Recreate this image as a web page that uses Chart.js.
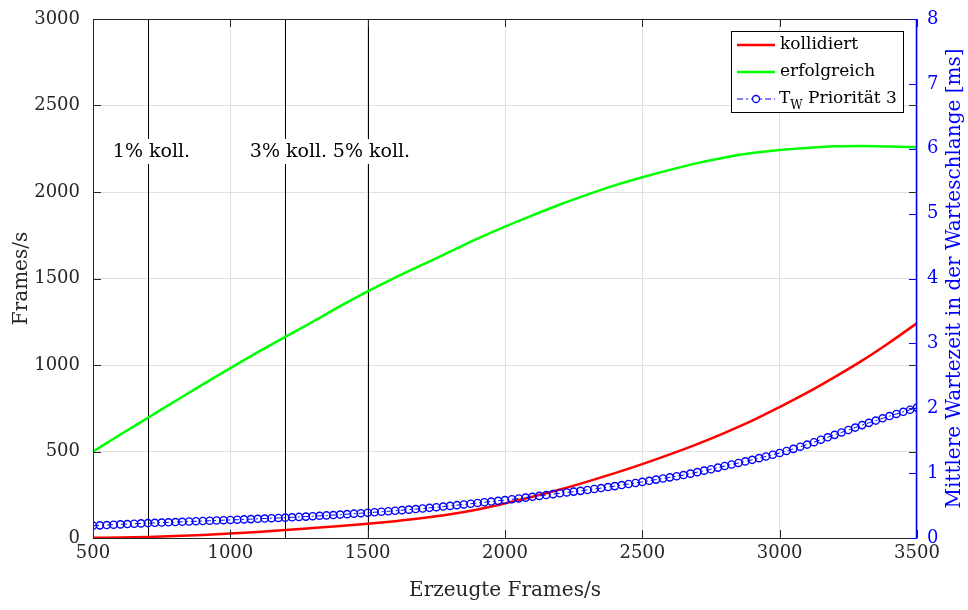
<!DOCTYPE html>
<html>
<head>
<meta charset="utf-8">
<script src="https://cdn.jsdelivr.net/npm/chart.js@4/dist/chart.umd.min.js"></script>
<style>
  html, body { margin: 0; padding: 0; background: #fff; }
  #wrap { width: 968px; height: 610px; }
</style>
</head>
<body>
<div id="wrap"><canvas id="c"></canvas></div>
<script>
// red/green curves, sampled every 100 frames/s
const xKoll = [500, 600, 700, 800, 900, 1000, 1100, 1200, 1300, 1400, 1500,
  1600, 1700, 1800, 1900, 2000, 2100, 2200, 2300, 2400, 2500,
  2600, 2700, 2800, 2900, 3000, 3100, 3200, 3300, 3400, 3500];
const kollidiert = [1, 3, 6, 11, 18, 26, 35, 46, 58, 70, 82,
  97, 115, 137, 165, 200, 238, 280, 326, 375, 427,
  483, 543, 608, 678, 757, 840, 930, 1025, 1130, 1242];
const erfolgreich = [500, 598, 695, 792, 888, 982, 1074, 1163, 1250, 1340, 1425,
  1505, 1580, 1655, 1730, 1800, 1865, 1928, 1985, 2038, 2085,
  2128, 2167, 2200, 2225, 2243, 2255, 2264, 2266, 2263, 2258];

// blue markers, every 25 frames/s
const xWarte = [500, 525, 550, 575, 600, 625, 650, 675, 700, 725, 750, 775,
  800, 825, 850, 875, 900, 925, 950, 975, 1000, 1025, 1050, 1075,
  1100, 1125, 1150, 1175, 1200, 1225, 1250, 1275, 1300, 1325, 1350, 1375,
  1400, 1425, 1450, 1475, 1500, 1525, 1550, 1575, 1600, 1625, 1650, 1675,
  1700, 1725, 1750, 1775, 1800, 1825, 1850, 1875, 1900, 1925, 1950, 1975,
  2000, 2025, 2050, 2075, 2100, 2125, 2150, 2175, 2200, 2225, 2250, 2275,
  2300, 2325, 2350, 2375, 2400, 2425, 2450, 2475, 2500, 2525, 2550, 2575,
  2600, 2625, 2650, 2675, 2700, 2725, 2750, 2775, 2800, 2825, 2850, 2875,
  2900, 2925, 2950, 2975, 3000, 3025, 3050, 3075, 3100, 3125, 3150, 3175,
  3200, 3225, 3250, 3275, 3300, 3325, 3350, 3375, 3400, 3425, 3450, 3475, 3500];
const warteP3 = [0.190, 0.195, 0.200, 0.205, 0.210, 0.215, 0.220, 0.225, 0.230, 0.234, 0.238, 0.242,
  0.246, 0.250, 0.254, 0.258, 0.262, 0.266, 0.270, 0.274, 0.278, 0.282, 0.287, 0.291,
  0.296, 0.300, 0.305, 0.309, 0.314, 0.319, 0.325, 0.330, 0.336, 0.342, 0.348, 0.354,
  0.361, 0.368, 0.375, 0.382, 0.390, 0.397, 0.405, 0.412, 0.420, 0.429, 0.437, 0.446,
  0.455, 0.465, 0.475, 0.485, 0.495, 0.506, 0.517, 0.528, 0.540, 0.551, 0.562, 0.573,
  0.585, 0.597, 0.610, 0.622, 0.635, 0.649, 0.662, 0.676, 0.690, 0.702, 0.715, 0.727,
  0.740, 0.755, 0.770, 0.785, 0.800, 0.816, 0.832, 0.848, 0.865, 0.882, 0.900, 0.917,
  0.935, 0.952, 0.970, 0.992, 1.015, 1.038, 1.060, 1.085, 1.110, 1.133, 1.157, 1.181,
  1.205, 1.231, 1.257, 1.283, 1.310, 1.342, 1.374, 1.407, 1.440, 1.477, 1.515, 1.552,
  1.590, 1.627, 1.665, 1.702, 1.740, 1.775, 1.810, 1.845, 1.880, 1.912, 1.945, 1.977, 2.010];

const markerX = [700, 1200, 1500];
const markerLabels = ["1% koll.", "3% koll.", "5% koll."];

const FONT = "'DejaVu Serif', serif";
const INK = "#262626";
const BLUE = "#0000ff";

const pts = (xs, ys) => xs.map((x, i) => ({ x: x, y: ys[i] }));
const plain = v => String(v);
function noPad(s) {
  s.paddingTop = 0; s.paddingBottom = 0; s.paddingLeft = 0; s.paddingRight = 0;
}

const decor = {
  id: "decor",
  beforeDatasetsDraw(chart) {
    const { ctx, chartArea: a, scales } = chart;
    ctx.save();
    ctx.strokeStyle = "#000";
    ctx.lineWidth = 1;
    ctx.font = "19px " + FONT;
    ctx.textAlign = "center";
    ctx.textBaseline = "middle";
    markerX.forEach((v, i) => {
      const px = Math.round(scales.x.getPixelForValue(v)) + 0.5;
      ctx.beginPath();
      ctx.moveTo(px, a.top);
      ctx.lineTo(px, a.bottom);
      ctx.stroke();
      const w = ctx.measureText(markerLabels[i]).width;
      const cx = px + 3;
      ctx.fillStyle = "#fff";
      ctx.fillRect(cx - w / 2 - 3, 139, w + 6, 25);
      ctx.fillStyle = "#000";
      ctx.fillText(markerLabels[i], cx, 152);
    });
    ctx.restore();
  },
  afterDraw(chart) {
    const { ctx, chartArea: a, scales } = chart;
    ctx.save();
    // frame
    ctx.lineWidth = 1;
    ctx.strokeStyle = INK;
    ctx.beginPath();
    ctx.moveTo(a.left + 0.5, a.bottom + 0.5);
    ctx.lineTo(a.left + 0.5, a.top + 0.5);
    ctx.lineTo(a.right, a.top + 0.5);
    ctx.moveTo(a.left, a.bottom + 0.5);
    ctx.lineTo(a.right, a.bottom + 0.5);
    ctx.stroke();
    ctx.strokeStyle = BLUE;
    ctx.lineWidth = 1.5;
    ctx.beginPath();
    ctx.moveTo(a.right - 0.5, a.top);
    ctx.lineTo(a.right - 0.5, a.bottom + 1);
    ctx.stroke();

    // inward ticks
    const len = 8;
    ctx.lineWidth = 1;
    ctx.strokeStyle = INK;
    ctx.beginPath();
    scales.x.ticks.forEach(t => {
      const px = Math.round(scales.x.getPixelForValue(t.value)) + 0.5;
      ctx.moveTo(px, a.bottom); ctx.lineTo(px, a.bottom - len);
      ctx.moveTo(px, a.top); ctx.lineTo(px, a.top + len);
    });
    scales.y.ticks.forEach(t => {
      const py = Math.round(scales.y.getPixelForValue(t.value)) + 0.5;
      ctx.moveTo(a.left, py); ctx.lineTo(a.left + len, py);
      ctx.moveTo(a.right, py); ctx.lineTo(a.right - len, py);
    });
    ctx.stroke();
    ctx.strokeStyle = BLUE;
    ctx.beginPath();
    scales.y2.ticks.forEach(t => {
      const py = Math.round(scales.y2.getPixelForValue(t.value)) + 0.5;
      ctx.moveTo(a.right, py); ctx.lineTo(a.right - len, py);
    });
    ctx.stroke();

    // axis titles
    ctx.font = "20px " + FONT;
    ctx.textAlign = "center";
    ctx.textBaseline = "middle";
    ctx.fillStyle = INK;
    ctx.fillText("Erzeugte Frames/s", (a.left + a.right) / 2, 591);
    ctx.save();
    ctx.translate(22, (a.top + a.bottom) / 2);
    ctx.rotate(-Math.PI / 2);
    ctx.fillText("Frames/s", 0, 0);
    ctx.restore();
    ctx.save();
    ctx.fillStyle = BLUE;
    ctx.translate(955, (a.top + a.bottom) / 2);
    ctx.rotate(-Math.PI / 2);
    ctx.fillText("Mittlere Wartezeit in der Warteschlange [ms]", 0, 0);
    ctx.restore();

    // legend
    const bx = 731.5, by = 31.5, bw = 172, bh = 81;
    ctx.fillStyle = "#fff";
    ctx.fillRect(bx, by, bw, bh);
    ctx.strokeStyle = "#000";
    ctx.lineWidth = 1;
    ctx.strokeRect(bx, by, bw, bh);
    const ds = chart.data.datasets;
    const rows = [45, 72, 99];
    ctx.font = "17px " + FONT;
    ctx.textAlign = "left";
    ctx.fillStyle = "#000";
    [0, 1].forEach(i => {
      ctx.strokeStyle = ds[i].borderColor;
      ctx.lineWidth = 2.5;
      ctx.beginPath();
      ctx.moveTo(737, rows[i]);
      ctx.lineTo(775, rows[i]);
      ctx.stroke();
      ctx.fillText(ds[i].label, 780, rows[i]);
    });
    const yb = rows[2];
    ctx.strokeStyle = BLUE;
    ctx.lineWidth = 1;
    ctx.setLineDash([6, 3, 2, 3]);
    ctx.beginPath();
    ctx.moveTo(737, yb);
    ctx.lineTo(775, yb);
    ctx.stroke();
    ctx.setLineDash([]);
    ctx.lineWidth = 1.3;
    ctx.fillStyle = "#fff";
    ctx.beginPath();
    ctx.arc(756, yb, 3.5, 0, Math.PI * 2);
    ctx.fill();
    ctx.stroke();
    ctx.fillStyle = "#000";
    ctx.fillText("T", 779, yb);
    let tx = 779 + ctx.measureText("T").width;
    ctx.font = "12px " + FONT;
    ctx.fillText("W", tx, yb + 7);
    tx += ctx.measureText("W").width;
    ctx.font = "17px " + FONT;
    ctx.fillText(" Priorität 3", tx, yb);
    ctx.restore();
  }
};

new Chart(document.getElementById("c"), {
  type: "line",
  data: {
    datasets: [
      {
        label: "kollidiert",
        data: pts(xKoll, kollidiert),
        yAxisID: "y",
        borderColor: "#ff0000",
        borderWidth: 2.5,
        pointRadius: 0,
        cubicInterpolationMode: "monotone",
        order: 1
      },
      {
        label: "erfolgreich",
        data: pts(xKoll, erfolgreich),
        yAxisID: "y",
        borderColor: "#00ff00",
        borderWidth: 2.5,
        pointRadius: 0,
        cubicInterpolationMode: "monotone",
        order: 2
      },
      {
        label: "T_W Priorität 3",
        data: pts(xWarte, warteP3),
        yAxisID: "y2",
        borderColor: BLUE,
        borderWidth: 1,
        borderDash: [6, 3, 2, 3],
        pointRadius: 3.6,
        pointBorderWidth: 1.4,
        pointBorderColor: BLUE,
        pointBackgroundColor: "rgba(0,0,0,0)",
        order: 0
      }
    ]
  },
  options: {
    responsive: true,
    maintainAspectRatio: false,
    animation: false,
    devicePixelRatio: 1,
    layout: { padding: { top: 19, left: 0, right: 0, bottom: 0 } },
    plugins: { legend: { display: false }, tooltip: { enabled: false } },
    scales: {
      x: {
        type: "linear",
        min: 500,
        max: 3500,
        ticks: { stepSize: 500, color: INK, font: { family: FONT, size: 18 }, padding: 5, maxRotation: 0, callback: plain },
        grid: { color: "#e0e0e0", drawTicks: false },
        border: { display: false },
        afterFit(s) { s.height = 72; noPad(s); }
      },
      y: {
        position: "left",
        min: 0,
        max: 3000,
        ticks: { stepSize: 500, color: INK, font: { family: FONT, size: 18 }, padding: 13, callback: plain },
        grid: { color: "#e0e0e0", drawTicks: false },
        border: { display: false },
        afterFit(s) { s.width = 93; noPad(s); }
      },
      y2: {
        position: "right",
        min: 0,
        max: 8,
        ticks: { stepSize: 1, color: BLUE, font: { family: FONT, size: 18 }, padding: 10, callback: plain },
        grid: { display: false, drawTicks: false },
        border: { display: false },
        afterFit(s) { s.width = 51; noPad(s); }
      }
    }
  },
  plugins: [decor]
});
</script>
</body>
</html>
